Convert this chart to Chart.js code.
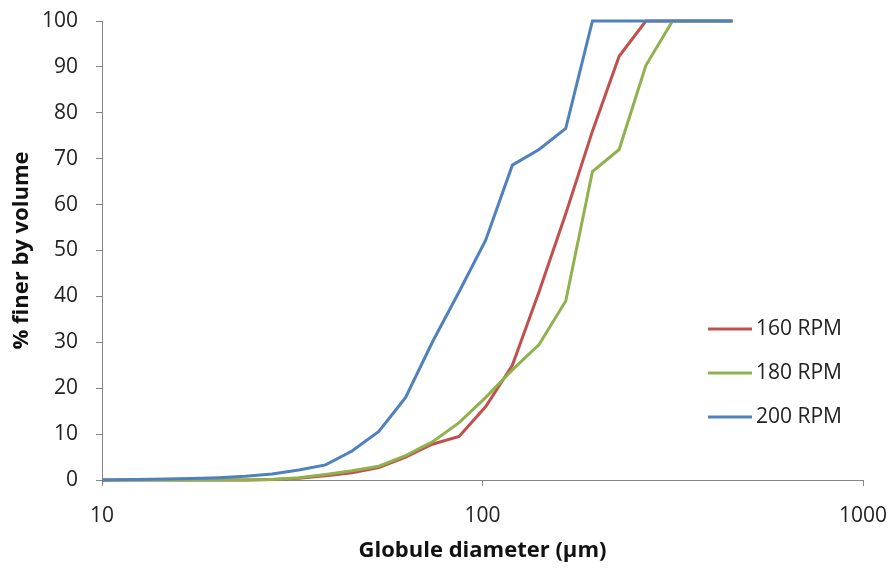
<!DOCTYPE html>
<html>
<head>
<meta charset="utf-8">
<script src="https://cdn.jsdelivr.net/npm/chart.js@4.4.0/dist/chart.umd.min.js"></script>
<style>
  html, body { margin: 0; padding: 0; background: #fff; }
  #wrap { width: 893px; height: 569px; position: relative; }
</style>
</head>
<body>
<div id="wrap"><canvas id="chart" width="893" height="569"></canvas></div>
<script>
// globule diameter bins (µm)
const diameters = [10, 12.4, 14.6, 17.2, 20.2, 23.8, 28, 32.9, 38.7, 45.4, 53.4, 62.8,
  73.8, 86.8, 102, 119.8, 140.8, 165.5, 194.5, 228.6, 268.7, 315.8, 371, 454];

// cumulative % finer by volume
const rpm160 = [0, 0, 0, 0, 0, 0, 0.1, 0.4, 0.9, 1.6, 2.7, 5,
  7.8, 9.5, 16, 25, 41, 58, 76, 92.3, 100, 100, 100, 100];
const rpm180 = [0, 0, 0, 0, 0, 0, 0.1, 0.5, 1.2, 2, 3, 5.3,
  8.3, 12.5, 18, 24, 29.5, 39, 67.2, 72, 90.3, 100, 100, 100];
const rpm200 = [0, 0.1, 0.2, 0.3, 0.5, 0.8, 1.3, 2.2, 3.3, 6.3, 10.6, 18,
  30, 41, 52.3, 68.6, 72, 76.6, 100, 100, 100, 100, 100, 100];

const seriesNames = ["160 RPM", "180 RPM", "200 RPM"];
const seriesColors = ["#C0504D", "#8FB24E", "#4F81BD"];
const xTicks = [10, 100, 1000];
const yTicks = [0, 10, 20, 30, 40, 50, 60, 70, 80, 90, 100];

const toPoints = (vals) => diameters.map((d, i) => ({ x: d, y: vals[i] }));

const axisColor = "#868686";
const tickFont = { family: "'Open Sans', sans-serif", size: 21 };
const titleFont = { family: "'Open Sans', sans-serif", size: 22, weight: "bold" };

// legend drawn inside the plot area, like the Excel original
const insideLegend = {
  id: "insideLegend",
  afterDraw(chart) {
    const ctx = chart.ctx;
    const area = chart.chartArea;
    const x0 = area.left + 606;
    const y0 = area.top + 308;
    ctx.save();
    ctx.font = "21px 'Open Sans', sans-serif";
    ctx.textBaseline = "middle";
    ctx.fillStyle = "#222";
    seriesNames.forEach((name, i) => {
      const y = y0 + i * 44;
      ctx.strokeStyle = seriesColors[i];
      ctx.lineWidth = 3;
      ctx.beginPath();
      ctx.moveTo(x0, y);
      ctx.lineTo(x0 + 44, y);
      ctx.stroke();
      ctx.fillText(name, x0 + 48, y);
    });
    ctx.restore();
  },
};

new Chart(document.getElementById("chart"), {
  type: "scatter",
  data: {
    datasets: [rpm160, rpm180, rpm200].map((vals, i) => ({
      label: seriesNames[i],
      data: toPoints(vals),
      showLine: true,
      borderColor: seriesColors[i],
      backgroundColor: seriesColors[i],
      borderWidth: 3,
      pointRadius: 0,
      tension: 0,
      clip: false,
      order: 3 - i,
    })),
  },
  options: {
    responsive: false,
    animation: false,
    layout: { padding: { top: 21, right: 30, left: 0, bottom: 0 } },
    plugins: {
      legend: { display: false },
      tooltip: { enabled: false },
    },
    scales: {
      x: {
        type: "logarithmic",
        min: 10,
        max: 1000,
        afterFit: (scale) => {
          scale.height = 89;
          scale.paddingLeft = 0;
          scale.paddingRight = 0;
        },
        afterBuildTicks: (scale) => { scale.ticks = xTicks.map((v) => ({ value: v })); },
        ticks: {
          font: tickFont,
          color: "#222",
          padding: 17,
          maxRotation: 0,
          callback: (v) => String(v),
        },
        grid: { drawOnChartArea: false, drawTicks: true, tickLength: 6, color: axisColor },
        border: { color: axisColor, width: 1 },
        title: {
          display: true,
          text: "Globule diameter (µm)",
          font: titleFont,
          color: "#111",
          padding: { top: 0, bottom: 5 },
        },
      },
      y: {
        min: 0,
        max: 100,
        afterFit: (scale) => {
          scale.width = 102;
          scale.paddingTop = 0;
          scale.paddingBottom = 0;
        },
        afterBuildTicks: (scale) => { scale.ticks = yTicks.map((v) => ({ value: v })); },
        ticks: { font: tickFont, color: "#222", padding: 18 },
        grid: { drawOnChartArea: false, drawTicks: true, tickLength: 6, color: axisColor },
        border: { color: axisColor, width: 1 },
        title: {
          display: true,
          text: "% finer by volume",
          font: titleFont,
          color: "#111",
          padding: { top: 9, bottom: 0 },
        },
      },
    },
  },
  plugins: [insideLegend],
});
</script>
</body>
</html>
